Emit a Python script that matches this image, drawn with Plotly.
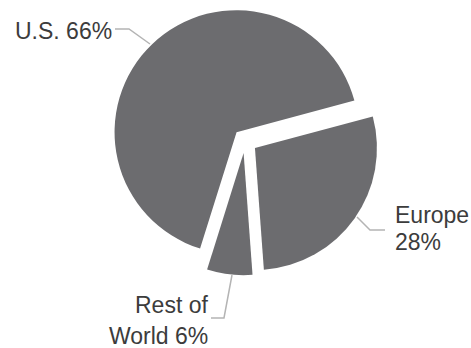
import plotly.graph_objects as go

W, H = 471, 348

# Data
regions = ["Europe", "Rest of World", "U.S."]
shares = [28, 6, 66]
label_lines = {
    "U.S.": ["U.S. 66%"],
    "Europe": ["Europe", "28%"],
    "Rest of World": ["Rest of", "World 6%"],
}

SLICE_COLOR = "#6c6c6f"
TEXT_COLOR = "#3c3c3c"
LINE_COLOR = "#b4b4b4"

# pie geometry (pixels)
cx, cy, r, pull = 245, 141, 122, 0.1
box = 2 * r * (1 + pull)

fig = go.Figure(go.Pie(
    labels=regions,
    values=shares,
    sort=False,
    direction="clockwise",
    rotation=75,
    pull=[pull] * len(regions),
    marker=dict(colors=[SLICE_COLOR] * len(regions), line=dict(width=0)),
    textinfo="none",
    hoverinfo="none",
    showlegend=False,
    domain=dict(x=[(cx - box / 2) / W, (cx + box / 2) / W],
                y=[1 - (cy + box / 2) / H, 1 - (cy - box / 2) / H]),
))

def px(x, y):
    return x / W, 1 - y / H

# label placement: (anchor, x, center-y per line)
placements = {
    "U.S.": ("left", 13, [31]),
    "Europe": ("left", 393, [215, 242]),
    "Rest of World": ("right", 210, [305, 336]),
}
for reg in regions:
    anchor, x, ys = placements[reg]
    for line, y in zip(label_lines[reg], ys):
        ax, ay = px(x, y)
        fig.add_annotation(x=ax, y=ay, xref="paper", yref="paper", text=line,
                           showarrow=False, xanchor=anchor, yanchor="middle",
                           font=dict(family="Liberation Sans, Arial", size=23, color=TEXT_COLOR))

leaders = [
    [(115, 29), (129, 29), (150, 44)],
    [(357, 217), (370, 230), (385, 230)],
    [(232, 275), (224, 318), (211, 318)],
]
for pts in leaders:
    path = "M " + " L ".join(f"{px(x, y)[0]:.5f},{px(x, y)[1]:.5f}" for x, y in pts)
    fig.add_shape(type="path", path=path, xref="paper", yref="paper",
                  line=dict(color=LINE_COLOR, width=1.5))

fig.update_layout(width=W, height=H, margin=dict(l=0, r=0, t=0, b=0),
                  paper_bgcolor="white", plot_bgcolor="white")
fig.write_html("out.html")
